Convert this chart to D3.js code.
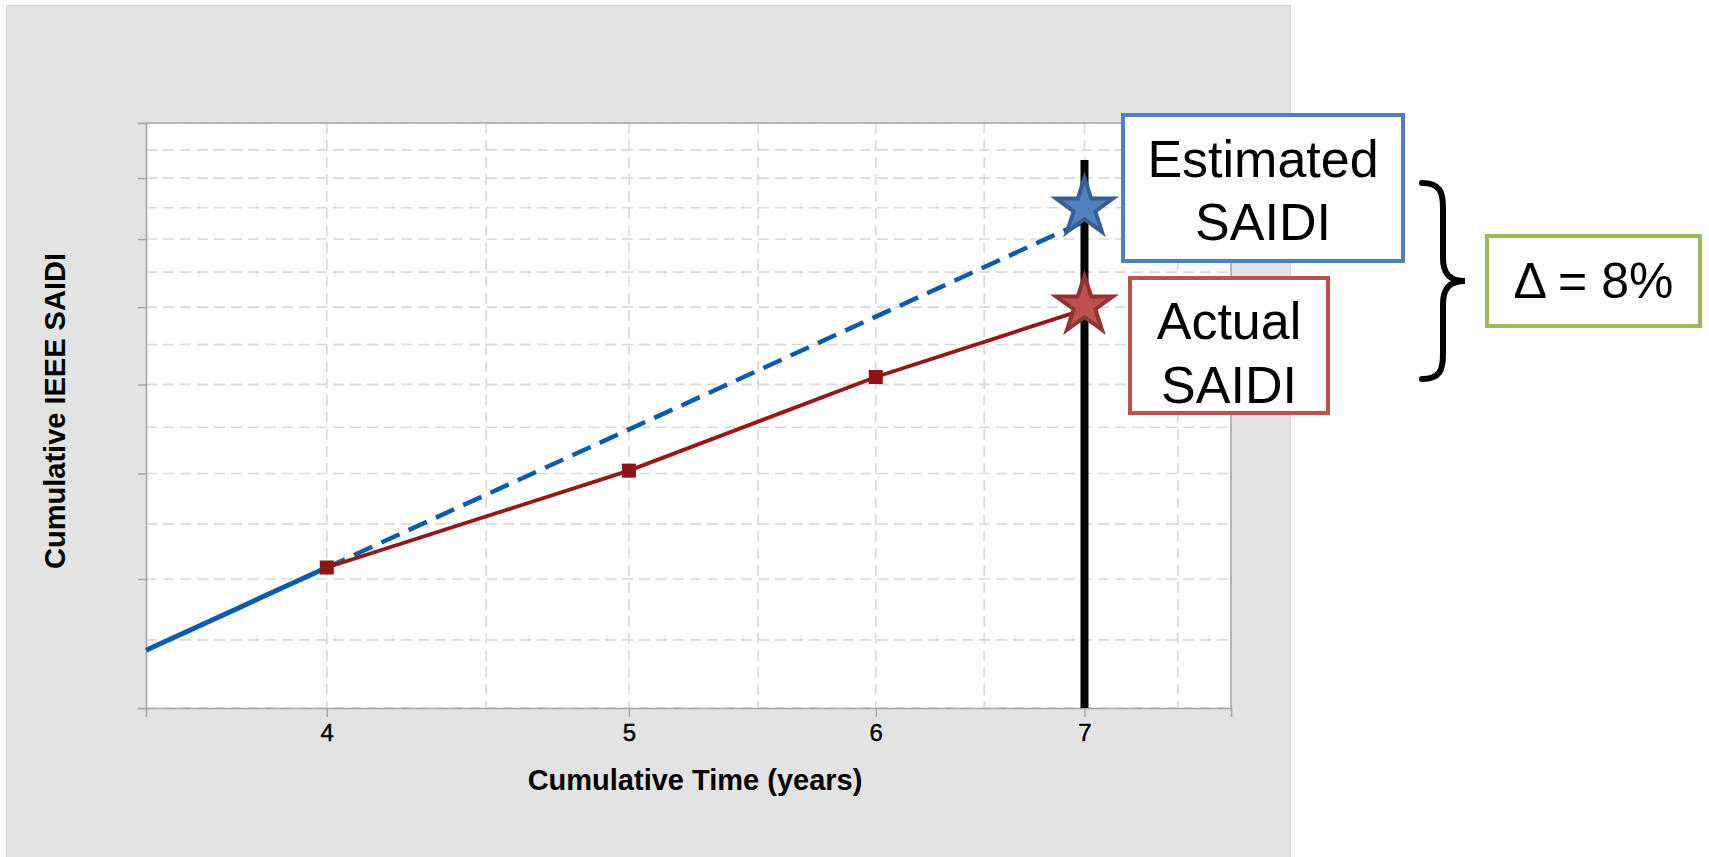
<!DOCTYPE html>
<html>
<head>
<meta charset="utf-8">
<script src="https://cdn.jsdelivr.net/npm/d3@7"></script>
<style>
body{margin:0;background:#fff;}
svg{display:block;font-family:Arial,"Liberation Sans",sans-serif;}
</style>
</head>
<body>
<svg id="chart"></svg>
<script>
// values (log-log axes)
var xTicks = [4,5,6,7];
var xGrid = [4,4.5,5,5.5,6,6.5,7,7.5];
var yTicks = [4,5,6,7,8,9,10,11];
var yGrid = [4,4.5,5,5.5,6,6.5,7,7.5,8,8.5,9,9.5,10,10.5,11];

var fitYears = [3.5,4];
var fitSaidi = [4.42,5.10];
var projYears = [4,7];
var projSaidi = [5.10,9.28];
var actualYears = [4,5,6,7];
var actualSaidi = [5.10,6.03,7.09,7.97];
var squareYears = [4,5,6];
var squareSaidi = [5.10,6.03,7.09];
var starNames = ["Estimated","Actual"];
var starYears = [7,7];
var starSaidi = [9.50,8.02];
var markYear = 7;
var markSaidi = [4,10.32];

var zip = function(xs,ys)
{
    return xs.map(function(x,i){return {x:x,y:ys[i]};});
}

var screen = {width:1709,height:857};
var margins = {left:146,right:478,top:123,bottom:149};
var graph = {
    width:screen.width-margins.left-margins.right,
    height:screen.height-margins.top-margins.bottom
};

var svg = d3.select("#chart")
    .attr("width",screen.width)
    .attr("height",screen.height);

// grey panel behind the plot
svg.append("rect")
    .attr("x",6.5).attr("y",5.5)
    .attr("width",1284).attr("height",870)
    .attr("fill","#e3e3e3")
    .attr("stroke","#d2d2d2")
    .attr("stroke-width",1);

var xScale = d3.scaleLog()
    .domain([3.5,7.8])
    .range([0,graph.width]);
var yScale = d3.scaleLog()
    .domain([4,11])
    .range([graph.height,0]);

var target = svg.append("g")
    .attr("transform","translate("+margins.left+","+margins.top+")");

target.append("rect")
    .attr("width",graph.width)
    .attr("height",graph.height)
    .attr("fill","#fff");

// dashed grid
var grid = target.append("g")
    .attr("stroke","#d9d9d9")
    .attr("stroke-width",1.6)
    .attr("stroke-dasharray","11,6");
grid.selectAll(".gx").data(xGrid).enter().append("line")
    .attr("x1",function(d){return xScale(d);})
    .attr("x2",function(d){return xScale(d);})
    .attr("y1",0).attr("y2",graph.height);
grid.selectAll(".gy").data(yGrid).enter().append("line")
    .attr("x1",0).attr("x2",graph.width)
    .attr("y1",function(d){return yScale(d);})
    .attr("y2",function(d){return yScale(d);});

// axes
var xAxis = d3.axisBottom(xScale)
    .tickValues(xTicks)
    .tickFormat(d3.format("d"))
    .tickSize(9).tickPadding(7);
var yAxis = d3.axisLeft(yScale)
    .tickValues(yTicks)
    .tickFormat("")
    .tickSize(8);

var gx = target.append("g")
    .attr("transform","translate(0,"+graph.height+")")
    .call(xAxis);
var gy = target.append("g").call(yAxis);
[gx,gy].forEach(function(g)
{
    g.select(".domain").attr("stroke","#a6a6a6").attr("stroke-width",1.6);
    g.selectAll(".tick line").attr("stroke","#a6a6a6").attr("stroke-width",1.4);
});
gx.selectAll(".tick text")
    .attr("font-size",24)
    .attr("font-family","Arial,'Liberation Sans',sans-serif")
    .attr("fill","#000")
    .attr("stroke","#000")
    .attr("stroke-width",0.4);

// top and right frame
target.append("path")
    .attr("d","M0,0H"+graph.width+"V"+graph.height)
    .attr("fill","none")
    .attr("stroke","#a6a6a6")
    .attr("stroke-width",1.6);

var line = d3.line()
    .x(function(d){return xScale(d.x);})
    .y(function(d){return yScale(d.y);});

target.append("path")
    .datum(zip(fitYears,fitSaidi))
    .attr("d",line)
    .attr("fill","none")
    .attr("stroke","#0a5bab")
    .attr("stroke-width",5);

target.append("path")
    .datum(zip(projYears,projSaidi))
    .attr("d",line)
    .attr("fill","none")
    .attr("stroke","#0a5bab")
    .attr("stroke-width",4.5)
    .attr("stroke-dasharray","20,10");

target.append("path")
    .datum(zip(actualYears,actualSaidi))
    .attr("d",line)
    .attr("fill","none")
    .attr("stroke","#961717")
    .attr("stroke-width",3.8);

target.selectAll(".sq")
    .data(zip(squareYears,squareSaidi))
    .enter()
    .append("rect")
    .attr("x",function(d){return xScale(d.x)-7;})
    .attr("y",function(d){return yScale(d.y)-7;})
    .attr("width",14).attr("height",14)
    .attr("fill","#8f1313");

// vertical marker at year 7
target.append("line")
    .attr("x1",xScale(markYear)).attr("x2",xScale(markYear))
    .attr("y1",yScale(markSaidi[1])).attr("y2",yScale(markSaidi[0]))
    .attr("stroke","#000")
    .attr("stroke-width",8);

var starFill = {Estimated:"#4f81bd",Actual:"#c0504d"};
var starEdge = {Estimated:"#385f92",Actual:"#8e3533"};
var star = d3.symbol().type(d3.symbolStar).size(1000);
target.selectAll(".star")
    .data(starNames.map(function(n,i){return {name:n,x:starYears[i],y:starSaidi[i]};}))
    .enter()
    .append("path")
    .attr("d",star)
    .attr("transform",function(d){return "translate("+xScale(d.x)+","+yScale(d.y)+")";})
    .attr("fill",function(d){return starFill[d.name];})
    .attr("stroke",function(d){return starEdge[d.name];})
    .attr("stroke-width",4)
    .attr("stroke-linejoin","miter");

// axis titles
svg.append("text")
    .text("Cumulative Time (years)")
    .attr("x",695)
    .attr("y",790)
    .attr("text-anchor","middle")
    .attr("font-size",29)
    .attr("font-weight","bold");

svg.append("g")
    .attr("transform","translate(65,411)")
    .append("text")
    .text("Cumulative IEEE SAIDI")
    .attr("transform","rotate(-90)")
    .attr("text-anchor","middle")
    .attr("font-size",29)
    .attr("font-weight","bold");

// callout boxes
var boxes = [
    {x:1123,y:115,w:280,h:146,color:"#4f81bd",lines:["Estimated","SAIDI"],base:[177,240],size:52},
    {x:1130,y:278,w:198,h:135,color:"#c0504d",lines:["Actual","SAIDI"],base:[339,403],size:52},
    {x:1487,y:236,w:213,h:90,color:"#9bbb59",lines:["\u0394 = 8%"],base:[298],size:50}
];
var callouts = svg.append("g");
boxes.forEach(function(b)
{
    callouts.append("rect")
        .attr("x",b.x).attr("y",b.y)
        .attr("width",b.w).attr("height",b.h)
        .attr("fill","#fff")
        .attr("stroke",b.color)
        .attr("stroke-width",4);
    b.lines.forEach(function(t,i)
    {
        callouts.append("text")
            .text(t)
            .attr("x",b.x+b.w/2)
            .attr("y",b.base[i])
            .attr("text-anchor","middle")
            .attr("font-size",b.size)
            .attr("fill","#000");
    });
});

// curly brace
callouts.append("path")
    .attr("d","M1422,183 C1440,183 1443,192 1443,208 L1443,258 C1443,274 1450,281 1465,281 C1450,281 1443,288 1443,304 L1443,354 C1443,370 1440,379 1422,379")
    .attr("fill","none")
    .attr("stroke","#000")
    .attr("stroke-width",6)
    .attr("stroke-linecap","round");
</script>
</body>
</html>
